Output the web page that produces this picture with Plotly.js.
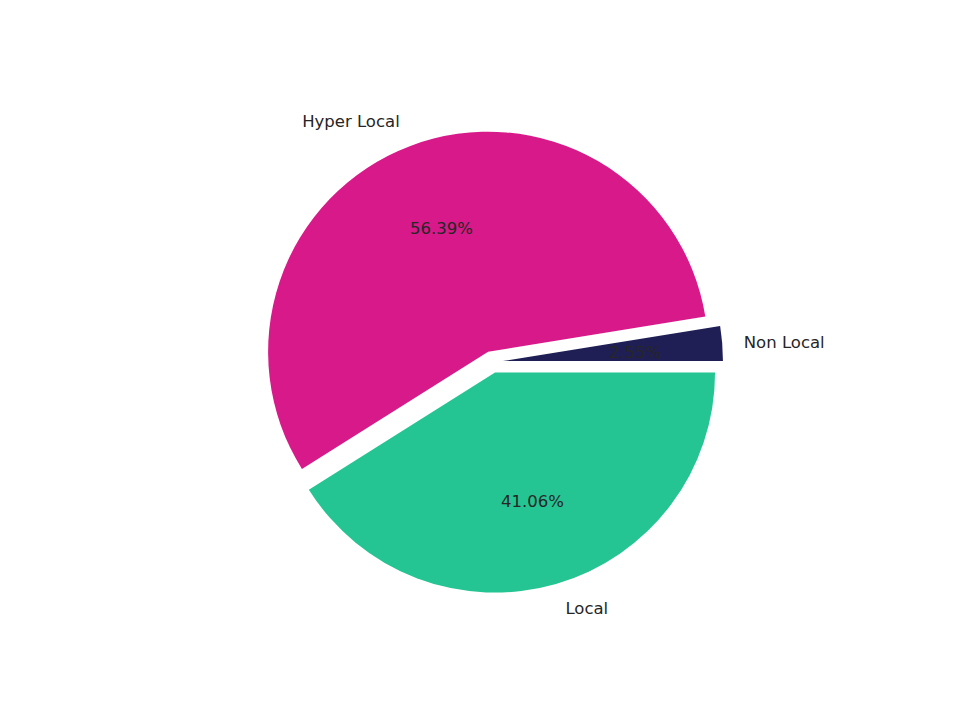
<!DOCTYPE html>
<html>
<head>
<meta charset="utf-8">
<script src="https://cdn.plot.ly/plotly-3.0.1.min.js"></script>
<style>
  html, body { margin: 0; padding: 0; background: white; }
  #chart { width: 960px; height: 720px; }
</style>
</head>
<body>
<div id="chart"></div>
<script>
// parts de chaque zone (ordre du tracé : sens horaire depuis 3 h)
const labels = ['Local', 'Hyper Local', 'Non Local'];
const shares = [41.06, 56.39, 2.55];
const colors = ['#25c493', '#d7198a', '#1f1f56'];
const pulls = [0.05, 0.05, 0.05];

const textColor = '#262626';
const font = 'DejaVu Sans, sans-serif';
const clear = ['rgba(0,0,0,0)', 'rgba(0,0,0,0)', 'rgba(0,0,0,0)'];

// disque principal : centre ~ (492, 362), rayon ~ 220 px
function dom(cx, cy, half) {
  return { x: [(cx - half) / 960, (cx + half) / 960],
           y: [1 - (cy + half) / 720, 1 - (cy - half) / 720] };
}

let base = {
  type: 'pie', labels: labels, values: shares, sort: false,
  direction: 'clockwise', rotation: 90,
  showlegend: false, hoverinfo: 'skip'
};

// parts visibles
let pie = Object.assign({}, base, {
  marker: { colors: colors, line: { width: 0 } },
  pull: pulls, textinfo: 'none',
  domain: dom(492, 362, 220 * 1.05)
});

// pourcentages des grandes parts (disque invisible un peu plus grand, texte à l'intérieur)
let pctIn = Object.assign({}, base, {
  marker: { colors: clear },
  pull: pulls, texttemplate: ['%{value:.2f}%', '%{value:.2f}%', ''],
  textposition: 'inside', insidetextorientation: 'horizontal',
  insidetextfont: { family: font, size: 16.5, color: textColor },
  domain: dom(492, 362, 260 * 1.05)
});

// pourcentage de la petite part (disque invisible plus petit, texte à l'extérieur)
let pctOut = Object.assign({}, base, {
  marker: { colors: clear },
  pull: pulls, texttemplate: ['', '', '%{value:.2f}%'],
  textposition: 'outside', textfont: { family: font, size: 16.5, color: textColor },
  domain: dom(492, 362, 107 * 1.05)
});

// étiquettes (disque invisible plus grand)
let lab = Object.assign({}, base, {
  marker: { colors: clear },
  pull: pulls, textinfo: 'label',
  textposition: 'outside', textfont: { family: font, size: 16.5, color: textColor },
  domain: dom(492, 362, 236 * 1.05)
});

let layout = {
  width: 960, height: 720,
  margin: { l: 0, r: 0, t: 0, b: 0 },
  paper_bgcolor: 'white', plot_bgcolor: 'white',
  font: { family: font, color: textColor }
};

Plotly.newPlot('chart', [pie, pctIn, pctOut, lab], layout, { displayModeBar: false, staticPlot: true });
</script>
</body>
</html>
